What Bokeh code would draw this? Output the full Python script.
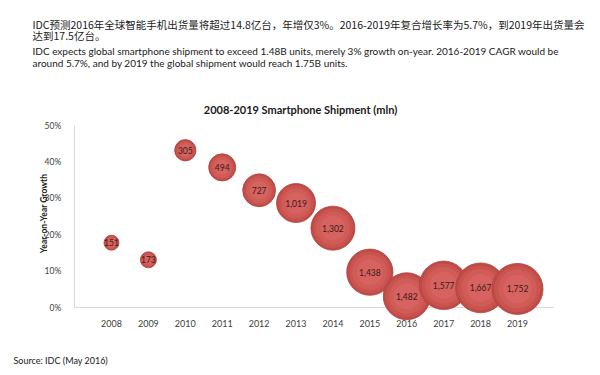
from bokeh.plotting import figure
from bokeh.models import Range1d, FixedTicker, NumeralTickFormatter
from bokeh.core.properties import value
from bokeh.embed import file_html
from bokeh.resources import INLINE
import math

# ---- data ----
years = [2008, 2009, 2010, 2011, 2012, 2013, 2014, 2015, 2016, 2017, 2018, 2019]
growth = [0.178, 0.131, 0.432, 0.385, 0.322, 0.287, 0.218, 0.097, 0.031, 0.061, 0.054, 0.051]
shipments = [151, 173, 305, 494, 727, 1019, 1302, 1438, 1482, 1577, 1667, 1752]
y_ticks = [0, 0.1, 0.2, 0.3, 0.4, 0.5]

title_text = "2008-2019 Smartphone Shipment (mln)"
y_label_text = "Year-on-Year Growth"
note_lines_zh = [
    "IDC预测2016年全球智能手机出货量将超过14.8亿台，年增仅3%。2016-2019年复合增长率为5.7%，到2019年出货量会",
    "达到17.5亿台。",
]
note_lines_en = [
    "IDC expects global smartphone shipment to exceed 1.48B units, merely 3% growth on-year. 2016-2019 CAGR would be",
    "around 5.7%, and by 2019 the global shipment would reach 1.75B units.",
]
source_text = "Source: IDC (May 2016)"

W, H = 600, 375
FONT = "Lato"
CJK = "Noto Sans CJK SC"

# the frame fills the whole canvas; axes are placed inside it
p = figure(width=W, height=H, output_backend="svg", toolbar_location=None,
           x_range=Range1d(2004.993, 2021.249), y_range=Range1d(-0.1868, 0.8434),
           min_border_left=0, min_border_right=0, min_border_top=0, min_border_bottom=0)
# pixel ranges for page texts (y grows downward)
p.extra_x_ranges = {"px": Range1d(0, W)}
p.extra_y_ranges = {"px": Range1d(H, 0)}
p.outline_line_color = None
p.xgrid.visible = False
p.ygrid.visible = False
p.background_fill_color = "white"
p.border_fill_color = "white"

ya = p.yaxis[0]
ya.fixed_location = 2006.99
ya.bounds = (y_ticks[0], y_ticks[-1])
ya.ticker = FixedTicker(ticks=y_ticks)
ya.formatter = NumeralTickFormatter(format="0%")
ya.axis_line_color = "#d9d9d9"
ya.axis_line_width = 1.2
ya.major_tick_line_color = None
ya.minor_tick_line_color = None
ya.major_label_standoff = 7
ya.major_label_text_font = FONT
ya.major_label_text_font_size = "8.5px"
ya.major_label_text_color = "#404040"

xa = p.xaxis[0]
xa.fixed_location = 0
xa.bounds = (2006.99, 2019.98)
xa.ticker = FixedTicker(ticks=years)
xa.axis_line_color = "#d9d9d9"
xa.major_tick_line_color = None
xa.minor_tick_line_color = None
xa.major_label_standoff = 6
xa.major_label_text_font = FONT
xa.major_label_text_font_size = "9px"
xa.major_label_text_color = "#404040"

# bubbles (area proportional to shipments), drawn above the axes
sizes = [1.22 * math.sqrt(v) for v in shipments]
shades = [(1.0, "#c04a46"), (0.9, "#c9534f"), (0.76, "#d05b57"), (0.56, "#d6635f")]
for i in range(len(years)):
    for k, (f, c) in enumerate(shades):
        p.scatter(x=[years[i]], y=[growth[i]], size=[sizes[i] * f], fill_color=c,
                  line_color="#ad4340" if k == 0 else None, line_width=0.8, level="overlay")

p.text(x=years, y=growth, text=[f"{v:,}" for v in shipments], text_align="center",
       text_baseline="middle", text_font=value(FONT), text_font_size="8.5px",
       text_color="#3b1a1a", level="overlay")

def add_text(xs, ys, texts, size, font=FONT, style="normal", align="left", baseline="middle",
             angle=0, color="#1a1a1a"):
    # xs, ys: page pixels from top-left
    p.text(x=xs, y=ys, text=texts, x_range_name="px", y_range_name="px",
           text_font=value(font), text_font_size=size, text_font_style=style,
           text_align=align, text_baseline=baseline, angle=angle, text_color=color)

add_text([32, 32], [24, 35], note_lines_zh, "10.5px", font=CJK)
add_text([32, 32], [50, 62], note_lines_en, "10px")
add_text([300], [109], [title_text], "11px", style="bold", align="center")
add_text([43], [213], [y_label_text], "8.5px", style="bold", align="center", angle=math.pi / 2)
add_text([13], [360], [source_text], "9px")

open("out.html", "w").write(file_html(p, INLINE))
